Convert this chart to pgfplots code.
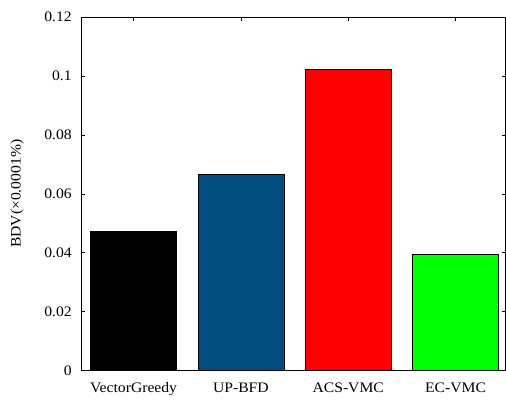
\documentclass[border=0pt]{standalone}
\usepackage{pgfplots}
\pgfplotsset{compat=1.18}
\usepackage{fontspec}
\setmainfont{Liberation Serif}[FakeStretch=1.08]
\usetikzlibrary{calc}
\definecolor{barblue}{RGB}{0,77,128}
\begin{document}
\begin{tikzpicture}
\begin{axis}[
  name=ax,
  scale only axis,
  width=424.7pt, height=353.4pt,
  xmin=-0.488, xmax=3.466,
  ymin=0, ymax=0.12,
  ytick={0,0.02,0.04,0.06,0.08,0.1,0.12},
  yticklabels={0,0.02,0.04,0.06,0.08,0.1,0.12},
  xtick={0,1,2,3},
  xticklabels={VectorGreedy,UP-BFD,ACS-VMC,EC-VMC},
  xtick pos=upper, xticklabel pos=lower,
  ytick pos=both, yticklabel pos=left,
  tick align=inside,
  major tick length=4pt,
  axis line style={line width=0.9pt},
  tick style={line width=0.6pt, black},
  ticklabel style={font=\fontsize{14.5}{16}\selectfont},
  yticklabel style={xshift=-6pt},
  xticklabel style={yshift=-9pt},
  ylabel={BDV(×0.0001\%)},
  every axis y label/.style={at={(axis description cs:-0.151,0.5)}, rotate=90, anchor=center, font=\fontsize{14.5}{16}\selectfont},
  /pgf/number format/assume math mode=true,
]
\addplot[ybar, bar width=0.803, fill=black, draw=black, line width=0.6pt] coordinates {(0,0.0472)};
\addplot[ybar, bar width=0.803, fill=barblue, draw=black, line width=0.6pt] coordinates {(1,0.0668)};
\addplot[ybar, bar width=0.803, fill=red, draw=black, line width=0.6pt] coordinates {(2,0.1022)};
\addplot[ybar, bar width=0.803, fill=green, draw=black, line width=0.6pt] coordinates {(3,0.0395)};
\end{axis}
\path[use as bounding box] ($(ax.south west)+(-81.3pt,-26.3pt)$) rectangle ($(ax.north east)+(0pt,17.3pt)$);
\end{tikzpicture}
\end{document}
